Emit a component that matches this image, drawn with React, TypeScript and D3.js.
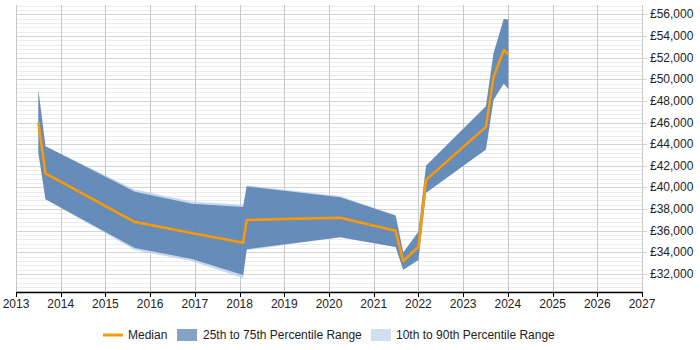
import React, { useEffect, useRef } from 'react';
import * as d3 from 'd3';

// decimal years of each sample
const years = [2013.5, 2013.66, 2015.66, 2016.93, 2018.08, 2018.16, 2020.25, 2021.49, 2021.66, 2022.0, 2022.17, 2023.51, 2023.68, 2023.91, 2024.01];
const median = [46000, 41300, 36800, 35800, 34900, 37000, 37200, 36000, 33200, 34500, 40700, 45600, 50200, 52700, 52300];
const p25 = [43200, 38900, 34400, 33400, 31900, 34300, 35400, 34500, 32400, 33300, 39500, 43500, 48100, 49600, 49100];
const p75 = [49000, 43800, 39600, 38500, 38200, 40100, 39100, 37400, 34000, 35900, 42000, 47500, 52400, 55600, 55500];
const p10 = [43200, 38900, 34200, 33200, 31600, 34200, 35400, 34500, 32400, 33300, 39500, 43500, 48100, 49600, 49100];
const p90 = [49000, 43800, 39800, 38700, 38400, 40200, 39200, 37400, 34000, 35900, 42000, 47500, 52400, 55600, 55500];

const legendItems = ['Median', '25th to 75th Percentile Range', '10th to 90th Percentile Range'];

const W = 700;
const H = 350;

const App: React.FC = () => {
  const svgRef = useRef<SVGSVGElement | null>(null);

  useEffect(() => {
    document.body.style.margin = '0';
    if (!svgRef.current) return;
    const svg = d3.select(svgRef.current);
    svg.selectAll('*').remove();

    const left = 16;
    const right = 642;
    const top = 5;
    const bottom = 292;

    const x = d3.scaleLinear().domain([2013, 2027]).range([left, right]);
    const y = d3.scaleLinear().domain([30340, 56860]).range([bottom, top]);

    const font = 'Liberation Sans, Arial, sans-serif';

    // minor horizontal grid
    const minor = d3.range(30400, 56861, 400).filter((v) => v % 2000 !== 0);
    svg
      .append('g')
      .selectAll('line')
      .data(minor)
      .enter()
      .append('line')
      .attr('x1', left)
      .attr('x2', right)
      .attr('y1', (d) => Math.round(y(d)) + 0.5)
      .attr('y2', (d) => Math.round(y(d)) + 0.5)
      .attr('stroke', '#ececec');

    const major = d3.range(32000, 56001, 2000);
    svg
      .append('g')
      .selectAll('line')
      .data(major)
      .enter()
      .append('line')
      .attr('x1', left)
      .attr('x2', right + 5)
      .attr('y1', (d) => Math.round(y(d)) + 0.5)
      .attr('y2', (d) => Math.round(y(d)) + 0.5)
      .attr('stroke', '#d4d4d4');

    const yearTicks = d3.range(2013, 2028);
    svg
      .append('g')
      .selectAll('line')
      .data(yearTicks)
      .enter()
      .append('line')
      .attr('x1', (d) => Math.round(x(d)) + 0.5)
      .attr('x2', (d) => Math.round(x(d)) + 0.5)
      .attr('y1', top)
      .attr('y2', bottom)
      .attr('stroke', '#c8c8c8');

    const area = (lo: number[], hi: number[]) =>
      d3
        .area<number>()
        .x((d) => x(d))
        .y0((_, i) => y(lo[i]))
        .y1((_, i) => y(hi[i]))(years);

    svg.append('path').attr('d', area(p10, p90)).attr('fill', '#b7cde8').attr('fill-opacity', 0.75);
    svg.append('path').attr('d', area(p25, p75)).attr('fill', '#4a76aa').attr('fill-opacity', 0.78);

    const line = d3
      .line<number>()
      .x((d) => x(d))
      .y((_, i) => y(median[i]));
    svg
      .append('path')
      .attr('d', line(years))
      .attr('fill', 'none')
      .attr('stroke', '#ff9900')
      .attr('stroke-width', 2.5)
      .attr('stroke-linejoin', 'round');

    // x axis
    const xAxis = svg.append('g').attr('transform', `translate(0,${bottom})`);
    xAxis
      .append('line')
      .attr('x1', left)
      .attr('x2', right)
      .attr('y1', 0.5)
      .attr('y2', 0.5)
      .attr('stroke', '#000')
      .attr('stroke-width', 1.5);
    xAxis
      .selectAll('line.tick')
      .data(yearTicks)
      .enter()
      .append('line')
      .attr('class', 'tick')
      .attr('x1', (d) => Math.round(x(d)) + 0.5)
      .attr('x2', (d) => Math.round(x(d)) + 0.5)
      .attr('y1', 0)
      .attr('y2', 5)
      .attr('stroke', '#000');
    xAxis
      .selectAll('text')
      .data(yearTicks)
      .enter()
      .append('text')
      .attr('x', (d) => x(d))
      .attr('y', 16)
      .attr('text-anchor', 'middle')
      .style('font-family', font)
      .style('font-size', '12px')
      .attr('fill', '#222')
      .text((d) => String(d));

    // y axis labels on the right
    svg
      .append('g')
      .selectAll('text')
      .data(major)
      .enter()
      .append('text')
      .attr('x', 650)
      .attr('y', (d) => y(d) + 4)
      .style('font-family', font)
      .style('font-size', '12px')
      .attr('fill', '#222')
      .text((d) => '£' + d3.format(',')(d));

    // legend
    const lg = svg.append('g').attr('transform', 'translate(0,335)');
    lg.append('line')
      .attr('x1', 103)
      .attr('x2', 123)
      .attr('y1', 0)
      .attr('y2', 0)
      .attr('stroke', '#ff9900')
      .attr('stroke-width', 3);
    lg.append('rect').attr('x', 177).attr('y', -6).attr('width', 20).attr('height', 12).attr('fill', '#86a3c6');
    lg.append('rect').attr('x', 371).attr('y', -6).attr('width', 20).attr('height', 12).attr('fill', '#d0dff0');
    const lx = [128, 203, 396];
    lg.selectAll('text')
      .data(legendItems)
      .enter()
      .append('text')
      .attr('x', (_, i) => lx[i])
      .attr('y', 4)
      .style('font-family', font)
      .style('font-size', '12px')
      .attr('fill', '#222')
      .text((d) => d);
  }, []);

  return <svg ref={svgRef} width={W} height={H} style={{ display: 'block' }}></svg>;
};

export default App;
